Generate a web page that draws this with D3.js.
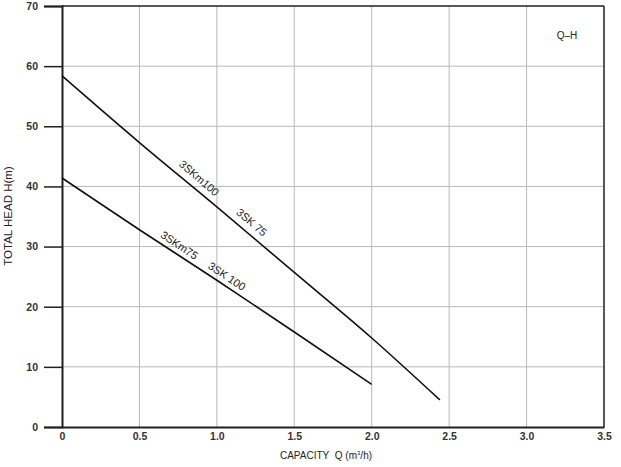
<!DOCTYPE html>
<html><head><meta charset="utf-8">
<script src="https://cdn.jsdelivr.net/npm/d3@7"></script>
<style>body{margin:0;background:#fff}svg{display:block}text{font-family:"Liberation Sans",Arial,sans-serif}</style>
</head><body>
<script>
const xTicks = [0, 0.5, 1.0, 1.5, 2.0, 2.5, 3.0, 3.5];
const xTickLabels = ["0", "0.5", "1.0", "1.5", "2.0", "2.5", "3.0", "3.5"];
const yTicks = [0, 10, 20, 30, 40, 50, 60, 70];
const upperQ = [0, 0.5, 1.0, 1.5, 2.0, 2.44];
const upperH = [58.4, 47.3, 36.6, 25.7, 14.8, 4.5];
const lowerQ = [0, 0.5, 1.0, 1.5, 2.0];
const lowerH = [41.4, 32.8, 24.4, 15.8, 7.1];
const labelText = ["3SKm100", "3SK 75", "3SKm75", "3SK 100"];
const labelQ = [0.84, 1.18, 0.726, 1.033];
const labelCurve = ["upper", "upper", "lower", "lower"];

const W = 621, H = 467;
const m = {l: 62, r: 17, t: 6, b: 40};
const svg = d3.select("body").append("svg").attr("width", W).attr("height", H);
const x = d3.scaleLinear().domain([0, 3.5]).range([m.l, W - m.r]);
const y = d3.scaleLinear().domain([0, 70]).range([H - m.b, m.t]);

// grid
svg.append("g").selectAll("line").data(xTicks.slice(1, -1)).join("line")
  .attr("x1", d => x(d)).attr("x2", d => x(d)).attr("y1", y(0)).attr("y2", y(70))
  .attr("stroke", "#b8b8b8").attr("stroke-width", 1);
svg.append("g").selectAll("line").data(yTicks.slice(1, -1)).join("line")
  .attr("x1", x(0)).attr("x2", x(3.5)).attr("y1", d => y(d)).attr("y2", d => y(d))
  .attr("stroke", "#b8b8b8").attr("stroke-width", 1);

// frame
svg.append("line").attr("x1", x(0)).attr("x2", x(3.5)).attr("y1", y(70)).attr("y2", y(70)).attr("stroke", "#231f20").attr("stroke-width", 1.5);
svg.append("line").attr("x1", x(3.5)).attr("x2", x(3.5)).attr("y1", y(70)).attr("y2", y(0)).attr("stroke", "#231f20").attr("stroke-width", 1.5);

// y axis
const yAxis = d3.axisLeft(y).tickValues(yTicks).tickSize(18).tickPadding(6).tickFormat(d3.format("d"));
const gy = svg.append("g").attr("transform", `translate(${x(0)},0)`).call(yAxis);
gy.select(".domain").attr("stroke", "#231f20").attr("stroke-width", 2);
gy.selectAll(".tick line").attr("stroke", "#231f20").attr("stroke-width", 1.5);
gy.selectAll(".tick text").attr("font-size", 10.5).attr("font-weight", "bold").attr("fill", "#333").attr("font-family", "Liberation Sans, Arial, sans-serif");

// x axis
const xAxis = d3.axisBottom(x).tickValues(xTicks).tickSize(0).tickPadding(6).tickFormat((d, i) => xTickLabels[i]);
const gx = svg.append("g").attr("transform", `translate(0,${y(0)})`).call(xAxis);
gx.select(".domain").attr("stroke", "#231f20").attr("stroke-width", 2);
gx.selectAll(".tick text").attr("font-size", 10.5).attr("font-weight", "bold").attr("fill", "#333").attr("font-family", "Liberation Sans, Arial, sans-serif");

// curves
const line = d3.line().x(d => x(d[0])).y(d => y(d[1])).curve(d3.curveMonotoneX);
const up = upperQ.map((q, i) => [q, upperH[i]]);
const lo = lowerQ.map((q, i) => [q, lowerH[i]]);
svg.append("path").attr("d", line(up)).attr("fill", "none").attr("stroke", "#111").attr("stroke-width", 1.6);
svg.append("path").attr("d", line(lo)).attr("fill", "none").attr("stroke", "#111").attr("stroke-width", 1.6);

// curve labels (placed on the curve, offset perpendicular above it)
function interp(qs, hs, q) {
  for (let i = 1; i < qs.length; i++) {
    if (q <= qs[i]) { const t = (q - qs[i-1]) / (qs[i] - qs[i-1]); return hs[i-1] + t * (hs[i] - hs[i-1]); }
  }
  return hs[hs.length - 1];
}
function angle(qs, hs) {
  return Math.atan2(y(hs[hs.length-1]) - y(hs[0]), x(qs[qs.length-1]) - x(qs[0])) * 180 / Math.PI;
}
const angUp = angle(upperQ, upperH), angLo = angle(lowerQ, lowerH);
svg.append("g").selectAll("text").data(labelText).join("text")
  .attr("transform", (d, i) => {
    const isUp = labelCurve[i] === "upper";
    const h = isUp ? interp(upperQ, upperH, labelQ[i]) : interp(lowerQ, lowerH, labelQ[i]);
    return `translate(${x(labelQ[i])},${y(h)}) rotate(${isUp ? angUp : angLo})`;
  })
  .attr("dy", (d, i) => labelCurve[i] === "upper" ? -7 : -5)
  .attr("text-anchor", "middle").attr("font-size", 11).attr("fill", "#222")
  .text(d => d);

// titles
svg.append("text").attr("x", 326).attr("y", 459).attr("text-anchor", "middle")
  .attr("font-size", 10).attr("fill", "#222")
  .html('CAPACITY&#160;&#160;Q (m<tspan dy="-4" font-size="6">3</tspan><tspan dy="4">/h)</tspan>');
svg.append("text").attr("transform", "translate(12,216) rotate(-90)").attr("text-anchor", "middle")
  .attr("font-size", 11.5).attr("fill", "#222").text("TOTAL HEAD  H(m)");
svg.append("text").attr("x", 567).attr("y", 39).attr("text-anchor", "middle")
  .attr("font-size", 10).attr("fill", "#222").text("Q–H");
</script>
</body></html>
